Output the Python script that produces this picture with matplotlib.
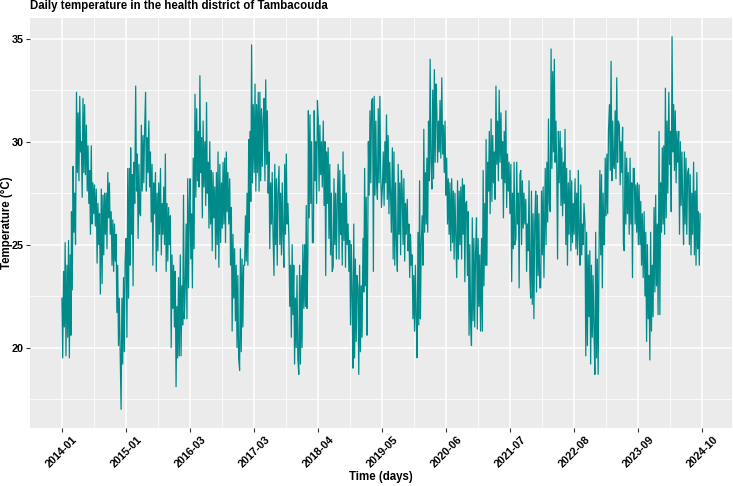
import matplotlib
matplotlib.use('Agg')
import matplotlib.pyplot as plt
import matplotlib.dates as mdates
from datetime import date, timedelta

plt.rcParams['font.family'] = ['Liberation Sans', 'DejaVu Sans']

# Daily temperature (deg C): 6 readings per month
# taken on days 1, 6, 11, 16, 21 and 26.
sample_days = [1, 6, 11, 16, 21, 26]

t2014 = [22.4, 19.5, 23.7, 21.0, 25.1, 19.6,  24.0, 20.5, 25.2, 19.5, 24.5, 20.6,
         26.6, 22.8, 28.8, 25.6, 27.5, 25.0,  32.4, 28.5, 31.4, 28.1, 32.2, 29.5,
         30.0, 27.3, 32.1, 28.5, 31.8, 28.4,  30.8, 27.6, 29.8, 27.0, 28.6, 25.5,
         29.8, 26.0, 28.0, 26.5, 27.9, 25.9,  27.7, 24.1, 27.0, 25.0, 26.5, 22.6,
         27.7, 23.1, 27.4, 24.5, 27.5, 25.5,  27.5, 24.8, 28.5, 26.3, 28.0, 25.5,
         26.6, 24.0, 26.2, 23.7, 26.0, 24.2,  25.5, 21.7, 24.0, 20.1, 22.4, 19.8]
t2015 = [17.0, 22.4, 19.2, 23.4, 19.8, 24.2,  25.3, 20.5, 28.7, 22.4, 28.7, 24.0,
         29.7, 25.5, 28.4, 23.0, 29.0, 27.0,  32.7, 27.6, 29.4, 25.3, 28.9, 26.5,
         26.4, 30.8, 27.6, 30.3, 28.0, 30.5,  32.4, 27.6, 30.2, 28.5, 31.0, 27.8,
         29.5, 26.1, 28.9, 24.0, 28.0, 26.5,  28.5, 23.7, 27.5, 24.7, 28.0, 25.5,
         28.7, 24.5, 27.0, 25.5, 27.8, 25.0,  29.4, 23.7, 27.0, 24.2, 26.8, 25.0,
         26.4, 20.0, 24.5, 21.9, 24.0, 21.0,  23.7, 18.1, 22.0, 19.5, 23.4, 19.6]
t2016 = [24.5, 19.6, 23.0, 21.1, 27.4, 21.4,  23.0, 26.0, 21.4, 28.2, 22.9, 27.0,
         28.2, 24.3, 26.5, 22.9, 29.2, 24.8,  32.3, 27.3, 31.6, 28.1, 30.5, 27.8,
         33.2, 28.5, 30.2, 26.3, 31.0, 27.8,  30.0, 26.9, 31.9, 27.5, 29.0, 25.8,
         30.0, 26.0, 28.6, 24.7, 28.5, 26.3,  27.8, 24.3, 28.5, 25.0, 29.5, 23.9,
         28.9, 25.1, 28.0, 25.8, 29.0, 26.0,  29.2, 25.1, 29.5, 26.6, 28.5, 26.0,
         28.2, 24.0, 26.8, 20.8, 25.5, 22.4,  24.8, 21.3, 24.0, 20.0, 23.5, 19.5]
t2017 = [18.9, 24.8, 19.8, 24.3, 21.0, 24.0,  24.0, 26.4, 24.2, 27.5, 24.0, 30.1,
         25.6, 30.5, 27.1, 34.7, 28.0, 31.8,  28.5, 32.8, 27.6, 31.8, 28.5, 32.4,
         27.6, 32.4, 28.1, 31.6, 28.8, 31.0,  32.1, 28.1, 33.0, 28.9, 31.5, 27.5,
         29.5, 24.8, 28.0, 26.0, 28.5, 25.5,  23.5, 28.9, 25.0, 28.2, 24.0, 27.5,
         28.8, 25.0, 27.5, 24.5, 28.0, 25.5,  23.9, 28.9, 25.5, 29.4, 26.0, 27.0,
         25.3, 22.0, 24.0, 20.5, 25.0, 21.6,  24.0, 19.2, 22.4, 20.0, 23.5, 19.5]
t2018 = [18.7, 24.0, 19.2, 23.5, 20.0, 25.0,  21.9, 25.0, 22.0, 26.9, 21.9, 24.5,
         31.5, 26.3, 31.3, 27.0, 30.0, 25.1,  25.1, 31.5, 28.1, 30.0, 27.0, 32.0,
         31.1, 27.6, 30.8, 28.4, 30.0, 27.8,  31.0, 26.9, 30.0, 23.5, 29.5, 27.0,
         29.7, 25.3, 28.9, 24.5, 27.5, 23.7,  23.9, 28.2, 25.0, 27.5, 24.3, 27.0,
         28.9, 24.3, 28.6, 25.5, 27.0, 24.0,  29.5, 25.2, 28.4, 23.9, 27.5, 25.0,
         26.0, 23.7, 25.2, 21.1, 25.0, 22.5,  19.0, 26.0, 19.5, 24.3, 20.3, 23.5]
t2019 = [22.9, 18.7, 24.0, 19.8, 23.0, 20.5,  25.3, 22.7, 28.7, 23.0, 27.3, 20.6,
         23.5, 30.0, 27.4, 31.5, 28.0, 32.0,  32.1, 23.7, 32.2, 27.4, 31.0, 28.0,
         27.2, 31.6, 28.0, 32.2, 28.5, 26.8,  27.9, 29.5, 26.9, 30.0, 28.0, 31.3,
         27.2, 30.3, 26.5, 29.0, 27.5, 25.6,  29.7, 24.3, 29.5, 24.0, 28.0, 25.2,
         23.7, 28.9, 25.5, 28.0, 24.5, 28.6,  27.6, 25.0, 28.2, 24.2, 27.0, 25.5,
         27.2, 24.7, 26.0, 23.4, 25.5, 24.0,  24.5, 21.4, 23.5, 20.8, 24.0, 21.5]
t2020 = [19.5, 25.6, 21.1, 28.1, 21.4, 25.0,  26.4, 24.0, 30.6, 25.6, 28.5, 26.0,
         29.2, 25.6, 31.0, 28.1, 34.0, 29.0,  27.7, 32.5, 28.2, 33.5, 29.0, 32.8,
         31.6, 29.0, 31.0, 29.5, 32.0, 29.2,  33.1, 29.4, 30.8, 28.5, 31.0, 27.4,
         29.2, 26.0, 28.2, 25.5, 28.0, 24.7,  28.2, 25.1, 27.6, 24.3, 27.5, 25.5,
         23.4, 28.1, 24.3, 27.6, 25.0, 27.8,  24.3, 28.2, 25.5, 27.9, 23.2, 27.0,
         27.1, 23.5, 26.6, 20.6, 25.0, 21.1,  20.1, 26.3, 21.3, 25.3, 21.0, 24.5]
t2021 = [26.3, 20.9, 25.3, 22.0, 24.5, 20.8,  25.3, 20.8, 28.6, 23.0, 27.0, 24.0,
         30.1, 24.0, 29.0, 27.6, 30.5, 26.5,  31.1, 27.1, 30.3, 28.0, 29.5, 27.2,
         32.7, 28.9, 31.0, 28.1, 32.5, 29.0,  31.4, 28.2, 30.0, 26.3, 30.5, 28.0,
         31.5, 26.8, 29.4, 27.6, 29.0, 26.5,  28.9, 23.2, 27.5, 24.8, 29.0, 25.0,
         25.3, 29.0, 26.0, 27.5, 22.9, 28.4,  28.6, 25.0, 28.1, 25.8, 27.5, 26.0,
         27.2, 23.7, 26.0, 24.7, 28.1, 23.5,  22.4, 27.6, 22.1, 26.5, 21.4, 26.0]
t2022 = [27.6, 22.7, 27.4, 23.5, 26.5, 22.9,  22.9, 27.6, 24.5, 27.8, 23.4, 26.5,
         28.7, 25.0, 29.0, 26.1, 31.1, 27.0,  26.6, 34.5, 28.7, 33.4, 29.5, 34.0,
         29.0, 31.0, 28.6, 24.3, 30.5, 28.0,  30.5, 26.9, 29.7, 26.4, 29.0, 27.0,
         30.6, 25.0, 28.7, 24.0, 28.0, 25.5,  28.6, 24.7, 28.1, 25.1, 27.0, 25.5,
         28.2, 24.8, 27.5, 24.5, 28.6, 25.5,  24.0, 27.9, 24.5, 26.0, 25.0, 27.0,
         26.0, 19.6, 25.6, 20.1, 24.5, 21.5,  24.7, 19.2, 24.0, 20.5, 23.5, 21.0]
t2023 = [18.7, 25.6, 19.5, 24.3, 18.7, 24.0,  28.6, 24.5, 28.4, 22.9, 27.5, 25.0,
         25.0, 29.2, 26.4, 29.4, 26.5, 30.5,  31.8, 28.6, 33.9, 28.1, 31.0, 29.0,
         28.7, 31.5, 28.2, 33.1, 29.0, 31.0,  30.8, 27.9, 30.0, 28.5, 30.7, 25.0,
         24.7, 29.5, 26.0, 29.2, 26.5, 28.5,  25.5, 29.2, 26.0, 28.0, 23.4, 28.7,
         28.7, 26.0, 27.9, 25.6, 28.0, 25.0,  27.9, 25.0, 27.1, 24.0, 26.5, 23.4,
         26.6, 22.5, 25.6, 20.3, 25.0, 21.4,  23.5, 19.4, 25.6, 20.8, 24.0, 21.5]
t2024 = [26.8, 22.7, 27.4, 23.0, 26.0, 21.6,  30.5, 21.6, 28.0, 25.6, 29.7, 26.0,
         29.8, 25.5, 32.6, 26.3, 31.0, 27.5,  32.4, 28.9, 30.5, 26.6, 35.1, 29.5,
         31.8, 28.6, 31.5, 28.0, 30.5, 29.0,  30.5, 25.5, 30.0, 26.9, 29.5, 27.0,
         25.0, 29.5, 26.0, 29.2, 25.5, 28.5,  28.7, 25.0, 28.4, 24.5, 27.5, 25.5,
         29.0, 24.5, 27.6, 24.0, 28.5, 24.8,  26.6, 24.0, 26.5]

years = {2014: t2014, 2015: t2015, 2016: t2016, 2017: t2017, 2018: t2018, 2019: t2019,
         2020: t2020, 2021: t2021, 2022: t2022, 2023: t2023, 2024: t2024}

dates = []
temps = []
for year, vals in years.items():
    for i, v in enumerate(vals):
        dates.append(date(year, i // 6 + 1, sample_days[i % 6]))
        temps.append(v)

# x breaks every 395 days starting at the first day
tick_dates = [date(2014, 1, 1) + timedelta(days=395 * k) for k in range(11)]
minor_dates = [a + (b - a) / 2 for a, b in zip(tick_dates[:-1], tick_dates[1:])]

W, H = 733, 486
fig = plt.figure(figsize=(W / 100, H / 100), dpi=100)
ax = fig.add_axes([30 / W, 1 - 428 / H, 702 / W, 410 / H])
ax.set_facecolor('#EBEBEB')
for s in ax.spines.values():
    s.set_visible(False)

ax.plot(dates, temps, color='#008B8B', lw=0.9)
ax.margins(x=0.05, y=0.05)

ax.set_xticks(tick_dates)
ax.set_xticks(minor_dates, minor=True)
ax.xaxis.set_major_formatter(mdates.DateFormatter('%Y-%m'))
ax.set_yticks([20, 25, 30, 35])
ax.set_yticks([17.5, 22.5, 27.5, 32.5], minor=True)

ax.grid(True, which='major', color='white', lw=1.1)
ax.grid(True, which='minor', color='white', lw=0.55)
ax.set_axisbelow(True)

ax.tick_params(which='major', length=3, width=0.8, color='#333333', labelsize=7.8, pad=1.5)
ax.tick_params(which='minor', length=0)
# ggplot-like angle = 45 with centred labels
for lab in ax.get_xticklabels():
    lab.set_rotation(45)
    lab.set_ha('center')
    lab.set_va('top')
    lab.set_fontweight('bold')
for lab in ax.get_yticklabels():
    lab.set_fontweight('bold')

fig.text(30 / W, 1 - 6 / H, 'Daily temperature in the health district of Tambacouda',
         ha='left', va='center', fontsize=8.3, fontweight='bold')
fig.text(381 / W, 1 - 477 / H, 'Time (days)', ha='center', va='center',
         fontsize=8.3, fontweight='bold')
fig.text(6.5 / W, 1 - 223 / H, 'Temperature (\u00b0C)', ha='center', va='center',
         rotation=90, fontsize=8.3, fontweight='bold')

fig.savefig('out.png', dpi=100)
